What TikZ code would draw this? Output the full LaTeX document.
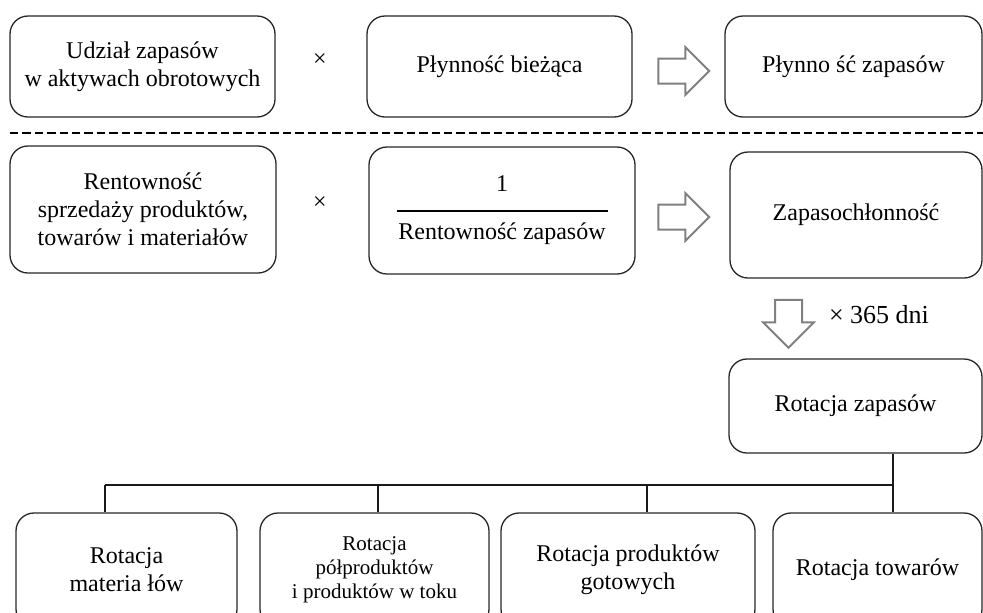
\documentclass[tikz,border=0pt]{standalone}
\usepackage{fontspec}
\setmainfont{Liberation Serif}
\usetikzlibrary{shapes.arrows}

\tikzset{
  box/.style={draw=black!85, line width=.65pt, rounded corners=9pt, align=center, inner sep=0pt},
  hollow/.style={single arrow, draw=black!50, fill=white, line width=1pt, inner xsep=0pt, inner ysep=5.75pt,
    single arrow head extend=5.75pt, minimum width=0pt, minimum height=25.5pt},
  tree/.style={line width=1pt, black!90}
}

\begin{document}
\begin{tikzpicture}[x=.5pt, y=-.5pt, font=\fontsize{12}{14}\selectfont]
        \useasboundingbox (0,0) rectangle (983,612);

        \node[box, minimum width=132.5pt, minimum height=50.5pt] (udzial) at (142.5,66.5) {Udział zapasów\\w aktywach obrotowych};
        \node[box, minimum width=132.5pt, minimum height=50.5pt] (plyn) at (499.5,66.5) {Płynność bieżąca};
        \node[box, minimum width=128.5pt, minimum height=50.5pt] (plynzap) at (853.5,66.5) {Płynno ść zapasów};
        \node (times1) at (320,60) {×};
        \node[hollow] (arr1) at (677.5,71) {};

        \draw[line width=1.2pt, dash pattern=on 4.2pt off 2pt] (10,133) -- (983,133);

        \node[box, minimum width=133pt, minimum height=63.5pt] (rent) at (143,209.5) {Rentowność\\sprzedaży produktów,\\towarów i materiałów};
        \node[box, minimum width=133pt, minimum height=63.5pt] (frac) at (502,210.5) {1\\[-4pt]\rule{105.5pt}{1pt}\\Rentowność zapasów};
        \node[box, minimum width=126pt, minimum height=63pt] (zapch) at (856,215) {Zapasochłonność};
        \node (times2) at (320,203) {×};
        \node[hollow] (arr2) at (677.5,217) {};

        \node[hollow, shape border rotate=270, inner xsep=6.25pt, inner ysep=0pt, minimum height=24pt, single arrow head extend=6pt] (arr3) at (788.5,317) {};
        \node[font=\fontsize{13}{15}\selectfont] (dni) at (879,315) {× 365 dni};

        \node[box, minimum width=126.5pt, minimum height=47pt] (rotzap) at (855.5,406) {Rotacja zapasów};

        \node[box, minimum width=110.5pt, minimum height=57pt] (rotmat) at (126.5,570) {Rotacja\\materia łów};
        \node[box, minimum width=114.5pt, minimum height=57pt, font=\fontsize{10.5}{12}\selectfont] (rotpol) at (374.5,570) {Rotacja\\półproduktów\\i produktów w toku};
        \node[box, minimum width=127pt, minimum height=57pt] (rotgot) at (628,570) {Rotacja produktów\\gotowych};
        \node[box, minimum width=104.5pt, minimum height=57pt] (rottow) at (877.5,570) {Rotacja towarów};

        \coordinate (bus) at (893,485);
        \coordinate (jA) at (105,485);
        \coordinate (jB) at (378,485);
        \coordinate (jC) at (647,485);
        \draw[tree] (rotzap.south -| bus) -- (rottow.north -| bus);
        \draw[tree] (jA) -- (bus);
        \foreach \j/\b in {jA/rotmat, jB/rotpol, jC/rotgot} { \draw[tree] (\j) -- (\j |- \b.north); }
\end{tikzpicture}
\end{document}
